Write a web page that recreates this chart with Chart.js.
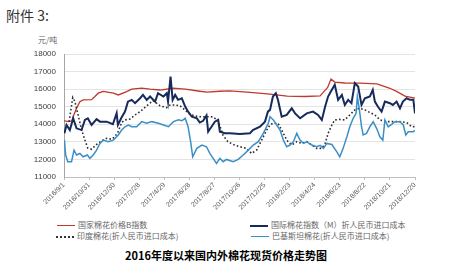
<!DOCTYPE html>
<html>
<head>
<meta charset="utf-8">
<script src="https://cdn.jsdelivr.net/npm/chart.js@4.4.1/dist/chart.umd.min.js"></script>
<style>
html, body { margin: 0; padding: 0; background: #fff; }
#wrap { position: relative; width: 452px; height: 268px; overflow: hidden; font-family: "Noto Sans CJK SC", sans-serif; }
#fj { position: absolute; left: 6px; top: 5px; font-size: 14px; color: #333; }
#unit { position: absolute; left: 38px; top: 34px; font-size: 8px; color: #666; }
#cv { position: absolute; left: 0; top: 28px; }
.lg { position: absolute; font-size: 8px; color: #666; white-space: nowrap; line-height: 10px; }
.lg i { display: inline-block; width: 18px; vertical-align: middle; margin-right: 3px; }
#ttl { position: absolute; left: 0; width: 452px; top: 247px; text-align: center; font-size: 11px; font-weight: bold; color: #000; }
</style>
</head>
<body>
<div id="wrap">
  <div id="fj">附件 3:</div>
  <div id="unit">元/吨</div>
  <canvas id="cv" width="452" height="190"></canvas>
  <div class="lg" style="left:57px;top:220px;"><i style="border-top:1.5px solid #c0392b;"></i>国家棉花价格B指数</div>
  <div class="lg" style="left:250px;top:220px;"><i style="border-top:2px solid #172a5c;"></i>国际棉花指数（M）折人民币进口成本</div>
  <div class="lg" style="left:56px;top:231px;"><i style="border-top:2px dotted #333;"></i>印度棉花(折人民币进口成本)</div>
  <div class="lg" style="left:251px;top:231px;"><i style="border-top:1.5px solid #3a8fc6;"></i>巴基斯坦棉花(折人民币进口成本)</div>
  <div id="ttl">2016年度以来国内外棉花现货价格走势图</div>
</div>
<script>
// x = days since 2016/9/1
const xTickLabels = ['2016/9/1', '2016/10/31', '2016/12/30', '2017/2/28', '2017/4/29', '2017/6/28', '2017/8/27',
    '2017/10/26', '2017/12/25', '2018/2/23', '2018/4/24', '2018/6/23', '2018/8/22', '2018/10/21', '2018/12/20'];

// 国家棉花价格B指数
const redDays = [0, 12, 19, 22, 30, 38, 46, 66, 74, 82,
    94, 118, 130, 150, 162, 186, 206, 230, 261, 290,
    325, 342, 373, 397, 445, 493, 534, 577, 613, 622,
    631, 639, 648, 672, 708, 749, 780, 797, 816, 840];
const redVals = [14200, 14150, 14200, 14440, 14910, 15290, 15390, 15400, 15580, 15770,
    15870, 15770, 15670, 15860, 16000, 16060, 16000, 15950, 16050, 16000,
    15880, 15830, 15880, 15900, 15820, 15720, 15600, 15580, 15620, 15860,
    16100, 16570, 16400, 16350, 16340, 16300, 16050, 15860, 15600, 15490];

// 国际棉花指数（M）折人民币进口成本
const navyDays = [1, 6, 14, 22, 30, 42, 50, 57, 66, 78,
    86, 102, 117, 126, 129, 138, 146, 153, 162, 170,
    182, 189, 198, 206, 218, 225, 238, 246, 249, 255,
    260, 266, 273, 282, 290, 297, 306, 318, 325, 333,
    341, 345, 353, 361, 369, 373, 385, 397, 421, 445,
    452, 469, 481, 488, 493, 500, 507, 512, 521, 533,
    545, 553, 565, 581, 596, 608, 617, 625, 632, 641,
    648, 656, 665, 672, 680, 688, 696, 704, 712, 720,
    732, 739, 744, 751, 760, 768, 780, 787, 796, 804,
    811, 820, 828, 836, 840];
const navyVals = [13490, 13960, 13670, 14340, 13770, 13670, 14250, 14340, 13960, 14290,
    14150, 14150, 14000, 14630, 13960, 14400, 14720, 15290, 15390, 15200,
    15480, 15670, 15390, 15580, 15290, 15770, 15580, 15770, 15290, 16720,
    15390, 15670, 15390, 15480, 15010, 14720, 14430, 14340, 14100, 14200,
    14500, 13580, 13860, 14150, 14250, 13580, 13490, 13490, 13450, 13490,
    13670, 13860, 14150, 14720, 14820, 15580, 15770, 15390, 14430, 14530,
    14910, 14620, 14340, 14620, 14720, 14530, 14250, 15010, 15580, 15960,
    16250, 15390, 15670, 15100, 15390, 15200, 16340, 16150, 15100, 15480,
    15580, 15960, 15290, 15010, 14720, 15290, 15200, 15100, 15290, 14910,
    15290, 15480, 15390, 15400, 14620];

// 印度棉花(折人民币进口成本)
const indiaDays = [12, 17, 21, 26, 34, 42, 50, 57, 66, 78,
    90, 102, 114, 122, 130, 138, 146, 158, 170, 182,
    198, 213, 230, 246, 254, 266, 278, 290, 302, 318,
    333, 345, 357, 369, 380, 392, 408, 421, 437, 449,
    461, 473, 485, 493, 500, 512, 521, 529, 536, 545,
    557, 569, 581, 593, 605, 617, 625, 632, 641, 648,
    660, 672, 684, 696, 708, 720, 732, 744, 756, 772,
    787, 804, 820, 832, 840];
const indiaVals = [14150, 14900, 15520, 15300, 14500, 13700, 13100, 12650, 12580, 12850,
    13050, 13200, 13150, 13300, 13600, 14100, 14250, 14300, 14530, 14720,
    15050, 15350, 15050, 14950, 15100, 15100, 15050, 14800, 14550, 14450,
    14420, 14430, 14420, 14200, 13400, 13010, 12820, 12720, 12630, 12340,
    12530, 13100, 13670, 13960, 14060, 14060, 13670, 13290, 13010, 12820,
    13010, 12910, 13010, 12820, 12630, 12630, 12910, 13480, 13960, 14250,
    14280, 14250, 14530, 14820, 14910, 14820, 14670, 14530, 14250, 14150,
    14150, 14150, 14100, 13860, 13870];

// 巴基斯坦棉花(折人民币进口成本)
const pakDays = [1, 4, 9, 18, 24, 30, 38, 46, 56, 62,
    70, 78, 86, 94, 106, 118, 130, 138, 146, 154,
    162, 174, 186, 198, 210, 226, 238, 250, 262, 274,
    282, 290, 297, 303, 308, 318, 330, 341, 349, 357,
    365, 373, 381, 389, 405, 417, 429, 441, 453, 465,
    477, 489, 493, 501, 509, 517, 525, 533, 541, 549,
    557, 565, 573, 581, 593, 605, 613, 621, 629, 641,
    653, 660, 668, 677, 684, 692, 699, 702, 707, 712,
    716, 724, 732, 740, 748, 756, 763, 768, 776, 784,
    792, 804, 812, 818, 824, 836, 840];
const pakVals = [13100, 12250, 11870, 11870, 12530, 12250, 12340, 12150, 12250, 12060,
    12250, 12530, 12910, 13100, 13010, 13100, 13390, 13670, 13860, 13960,
    13860, 13860, 14150, 14060, 14150, 14060, 13960, 13860, 14150, 14250,
    14200, 14340, 13860, 13010, 12150, 12630, 12820, 12720, 12340, 12060,
    11770, 12060, 11870, 12000, 11870, 12000, 12250, 12530, 12820, 13010,
    13480, 14060, 14430, 14250, 13960, 13670, 13100, 12720, 12820, 13010,
    13480, 13100, 12910, 13000, 12820, 12720, 12800, 12630, 12910, 12850,
    12430, 12150, 12630, 13290, 13860, 14340, 14620, 15580, 14820, 13860,
    13390, 13480, 13860, 14150, 13770, 13290, 13100, 14250, 13860, 14000,
    14150, 14150, 13960, 13390, 13580, 13580, 13650];

// 配列を {x, y} に変換
function toPoints(days, vals) {
    return days.map((d, i) => ({ x: d, y: vals[i] }));
}

new Chart(document.getElementById('cv'), {
    type: 'line',
    data: {
        datasets: [
            { label: '巴基斯坦棉花(折人民币进口成本)', data: toPoints(pakDays, pakVals), borderColor: '#3a8fc6', borderWidth: 1.5 },
            { label: '印度棉花(折人民币进口成本)', data: toPoints(indiaDays, indiaVals), borderColor: '#2b2b2b', borderWidth: 1.6, borderDash: [1.6, 2.2] },
            { label: '国际棉花指数（M）折人民币进口成本', data: toPoints(navyDays, navyVals), borderColor: '#172a5c', borderWidth: 2 },
            { label: '国家棉花价格B指数', data: toPoints(redDays, redVals), borderColor: '#c0392b', borderWidth: 1.3 }
        ]
    },
    options: {
        responsive: false,
        animation: false,
        devicePixelRatio: 1,
        elements: { point: { radius: 0 }, line: { tension: 0 } },
        layout: { padding: { left: 0, right: 37, top: 26, bottom: 0 } },
        plugins: { legend: { display: false }, tooltip: { enabled: false } },
        scales: {
            x: {
                type: 'linear',
                min: 0,
                max: 840,
                afterFit: s => { s.height = 41; },
                grid: { display: true, drawOnChartArea: false, drawTicks: true, tickLength: 3, color: '#bfbfbf' },
                border: { color: '#bfbfbf' },
                ticks: {
                    stepSize: 60,
                    autoSkip: false,
                    maxRotation: 45,
                    minRotation: 45,
                    padding: 1,
                    color: '#595959',
                    font: { family: 'Liberation Sans', size: 7 },
                    callback: v => xTickLabels[Math.round(v / 60)]
                }
            },
            y: {
                min: 11000,
                max: 18000,
                afterFit: s => { s.width = 64; },
                grid: { color: '#e4e4e4', drawTicks: false },
                border: { color: '#a6a6a6' },
                ticks: {
                    stepSize: 1000,
                    padding: 8,
                    color: '#404040',
                    font: { family: 'Liberation Sans', size: 8 },
                    callback: v => String(v)
                }
            }
        }
    }
});
</script>
</body>
</html>
